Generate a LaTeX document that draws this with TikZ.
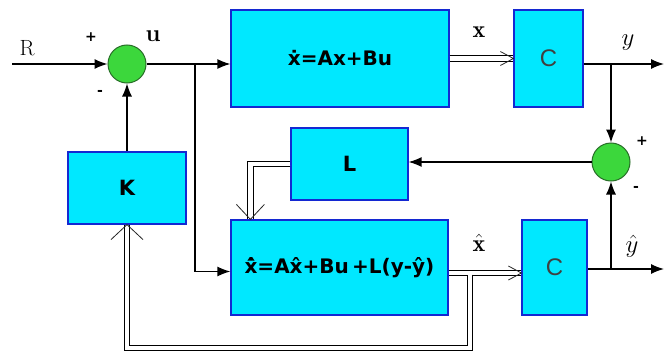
\documentclass[tikz,border=0pt]{standalone}
\usepackage{fontspec}
\newfontfamily\boxfont{DejaVu Sans}
\newfontfamily\cfont{Liberation Sans}
\usetikzlibrary{arrows.meta}
\definecolor{boxcyan}{RGB}{0,232,255}
\definecolor{boxblue}{RGB}{20,40,210}
\definecolor{sumgreen}{RGB}{60,215,60}
\definecolor{sumborder}{RGB}{40,110,40}
\tikzset{
  blk/.style={draw=boxblue, fill=boxcyan, line width=1.2pt, inner sep=0pt},
  sumnode/.style={circle, draw=sumborder, fill=sumgreen, line width=1pt, minimum size=38pt, inner sep=0pt},
  wire/.style={draw=black, line width=1.3pt},
  arr/.style={wire, -{Latex[length=13pt,width=10pt]}},
  dbl/.style={draw=black, line width=1.1pt, double=white, double distance=4.5pt},
  barb/.style={draw=black!85, line width=0.8pt},
  boxtxt/.style={font=\boxfont\bfseries\fontsize{20}{22}\selectfont},
  bigtxt/.style={font=\boxfont\bfseries\fontsize{21}{23}\selectfont},
  ctxt/.style={font=\cfont\fontsize{24}{26}\selectfont, text=black!75},
  lbl/.style={inner sep=0pt},
  sgn/.style={inner sep=0pt, font=\boxfont\bfseries\fontsize{14}{16}\selectfont}
}
\begin{document}
\begin{tikzpicture}[x=1pt,y=-1pt]
\useasboundingbox (0,0) rectangle (665,356);
\fill[white] (0,0) rectangle (665,356);

% blocks
\node[sumnode] (s1) at (127,64) {};
\node[blk, minimum width=218pt, minimum height=97pt, boxtxt] (P) at (340,58.5) {ẋ=Ax+Bu};
\node[blk, minimum width=69pt, minimum height=97pt, ctxt] (C1) at (548.5,58.5) {C};
\node[blk, minimum width=118pt, minimum height=72pt, bigtxt] (K) at (127,188) {K};
\node[blk, minimum width=117pt, minimum height=72pt, bigtxt] (L) at (349.5,164) {L};
\node[sumnode] (s2) at (611,162) {};
\node[blk, minimum width=217pt, minimum height=95pt, boxtxt] (O) at (339.5,267.5) {x̂̇=Ax̂+Bu\,+L(y-ŷ)};
\node[blk, minimum width=65pt, minimum height=95pt, ctxt] (C2) at (554.5,267.5) {C};

% coordinates
\coordinate (rin) at (12,64);
\coordinate (b1) at (195,64);
\coordinate (b2) at (611,64);
\coordinate (yout) at (664,64);
\coordinate (b3) at (611,269);
\coordinate (yhout) at (664,269);
\coordinate (oin) at ([xshift=20pt]O.north west);
\coordinate (xh) at ([yshift=-5.5pt]O.east);
\coordinate (b4) at (470,274.5);
\coordinate (kb) at (127,348);

% connectors
\draw[arr] (rin) -- (s1.west);
\draw[arr] (s1.east) -- (s1.east -| P.west);
\draw[arr] (b1) |- ([yshift=-4pt]O.west);
\draw[arr] (K.north) -- (s1.south);
\draw[dbl] (P.east) -- (C1.west);
\draw[arr] (C1.east |- yout) -- (yout);
\draw[arr] (b2) -- (s2.north);
\draw[arr] (s2.west) -- (s2.west -| L.east);
\draw[dbl] (L.west) -| (oin);
\draw[dbl] (xh) -- (xh -| C2.west);
\draw[dbl] (b4) |- (kb) -- (K.south);
\draw[arr] (C2.east |- yhout) -- (yhout);
\draw[arr] (b3) -- (s2.south);

% open arrowheads of the double lines
\draw[barb] ([shift={(-13pt,7pt)}]C1.west) -- (C1.west) -- ([shift={(-13pt,-7pt)}]C1.west);
\coordinate (c2in) at (xh -| C2.west);
\draw[barb] ([shift={(-13pt,7pt)}]c2in) -- (c2in) -- ([shift={(-13pt,-7pt)}]c2in);
\draw[barb] ([shift={(-16pt,-15pt)}]K.south) -- (K.south) -- ([shift={(16pt,-15pt)}]K.south);
\draw[barb] ([shift={(-14pt,15pt)}]oin) -- (oin) -- ([shift={(14pt,15pt)}]oin);

% labels
\node[lbl, font=\fontsize{22}{24}\selectfont] (lR) at (27,48) {R};
\node[sgn] (p1) at (91,37) {+};
\node[sgn] (m1) at (100,93) {-};
\node[lbl, font=\bfseries\fontsize{24}{26}\selectfont] (lu) at (153,36) {u};
\node[lbl, font=\fontsize{24}{26}\selectfont] (lx) at (479,32) {$\mathbf{x}$};
\node[lbl, font=\fontsize{26}{28}\selectfont] (ly) at (628,43) {$y$};
\node[sgn] (p2) at (642,141) {+};
\node[sgn] (m2) at (636,189) {-};
\node[lbl, font=\fontsize{24}{26}\selectfont] (lxh) at (479,243) {$\hat{\mathbf{x}}$};
\node[lbl, font=\fontsize{26}{28}\selectfont] (lyh) at (632,246) {$\hat{y}$};
\end{tikzpicture}
\end{document}
